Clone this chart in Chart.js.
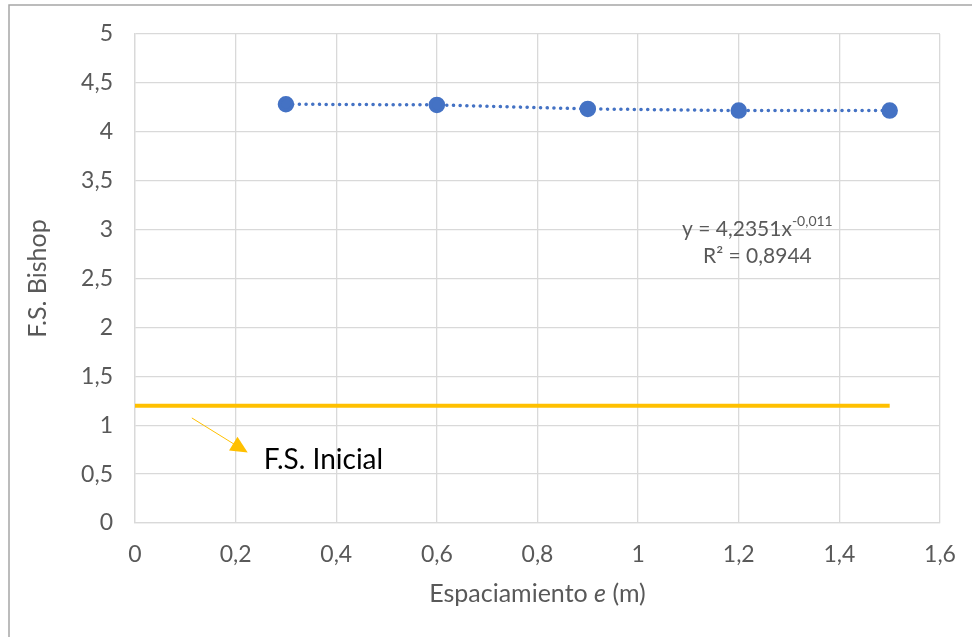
<!DOCTYPE html>
<html>
<head>
<meta charset="utf-8">
<script src="https://cdn.jsdelivr.net/npm/chart.js@4/dist/chart.umd.min.js"></script>
<style>
  html, body { margin: 0; padding: 0; background: #fff; }
  #wrap { width: 972px; height: 637px; position: relative; }
</style>
</head>
<body>
<div id="wrap"><canvas id="c" width="972" height="637"></canvas></div>
<script>
// espaciamiento e (m) vs F.S. Bishop
const espaciamiento = [0.3, 0.6, 0.9, 1.2, 1.5];
const fsBishop = [4.282, 4.275, 4.234, 4.217, 4.217];
// factor de seguridad inicial
const fsInicialX = [0, 1.5];
const fsInicialY = [1.2, 1.2];
const ecuacion = ['y = 4,2351x', '-0,011'];
const r2Texto = 'R² = 0,8944';
const etiquetaInicial = 'F.S. Inicial';

const gris = '#595959';
const fuente = 'Lato, "Open Sans", sans-serif';

function coma(v) {
    return (Math.round(v * 10) / 10).toString().replace('.', ',');
}

// draws the frame, axis titles, trend equation and the arrow label
const extras = {
    id: 'extras',
    afterDraw: function(chart) {
        const ctx = chart.ctx;
        const xs = chart.scales.x, ys = chart.scales.y;
        ctx.save();
        // outer frame
        ctx.strokeStyle = '#a6a6a6';
        ctx.lineWidth = 1.5;
        ctx.beginPath();
        ctx.moveTo(9, 640);
        ctx.lineTo(9, 5);
        ctx.lineTo(975, 5);
        ctx.stroke();

        // y title
        ctx.fillStyle = gris;
        ctx.font = '25px ' + fuente;
        ctx.textAlign = 'center';
        ctx.textBaseline = 'middle';
        ctx.translate(38, (chart.chartArea.top + chart.chartArea.bottom) / 2);
        ctx.rotate(-Math.PI / 2);
        ctx.fillText('F.S. Bishop', 0, 0);
        ctx.setTransform(1, 0, 0, 1, 0, 0);

        // x title with italic e
        const partes = [['Espaciamiento ', '25px '], ['e', 'italic 25px '], [' (m)', '25px ']];
        let total = 0;
        partes.forEach(function(p) { ctx.font = p[1] + fuente; total += ctx.measureText(p[0]).width; });
        let px = (chart.chartArea.left + chart.chartArea.right) / 2 - total / 2;
        ctx.textAlign = 'left';
        partes.forEach(function(p) {
            ctx.font = p[1] + fuente;
            ctx.fillText(p[0], px, 594);
            px += ctx.measureText(p[0]).width;
        });

        // trend equation
        ctx.font = '21px ' + fuente;
        const w1 = ctx.measureText(ecuacion[0]).width;
        ctx.font = '14px ' + fuente;
        const w2 = ctx.measureText(ecuacion[1]).width;
        const cx = xs.getPixelForValue(1.237);
        let ex = cx - (w1 + w2) / 2;
        const ey = ys.getPixelForValue(3.0);
        ctx.font = '21px ' + fuente;
        ctx.fillText(ecuacion[0], ex, ey);
        ctx.font = '14px ' + fuente;
        ctx.fillText(ecuacion[1], ex + w1, ey - 8);
        ctx.font = '21px ' + fuente;
        ctx.textAlign = 'center';
        ctx.fillText(r2Texto, cx, ys.getPixelForValue(2.73));

        // arrow to label
        const ax0 = xs.getPixelForValue(0.113), ay0 = ys.getPixelForValue(1.074);
        const ax1 = xs.getPixelForValue(0.224), ay1 = ys.getPixelForValue(0.72);
        const ang = Math.atan2(ay1 - ay0, ax1 - ax0);
        ctx.strokeStyle = '#FFC000';
        ctx.fillStyle = '#FFC000';
        ctx.lineWidth = 1;
        ctx.beginPath();
        ctx.moveTo(ax0, ay0);
        ctx.lineTo(ax1 - 10 * Math.cos(ang), ay1 - 10 * Math.sin(ang));
        ctx.stroke();
        ctx.beginPath();
        ctx.moveTo(ax1, ay1);
        ctx.lineTo(ax1 - 17 * Math.cos(ang) + 8 * Math.sin(ang), ay1 - 17 * Math.sin(ang) - 8 * Math.cos(ang));
        ctx.lineTo(ax1 - 17 * Math.cos(ang) - 8 * Math.sin(ang), ay1 - 17 * Math.sin(ang) + 8 * Math.cos(ang));
        ctx.closePath();
        ctx.fill();

        ctx.fillStyle = '#000';
        ctx.font = '28px ' + fuente;
        ctx.textAlign = 'left';
        ctx.fillText(etiquetaInicial, xs.getPixelForValue(0.256), ys.getPixelForValue(0.64));
        ctx.restore();
    }
};

new Chart(document.getElementById('c'), {
    type: 'scatter',
    data: {
        datasets: [
            {
                label: 'F.S. Inicial',
                data: fsInicialX.map(function(x, i) { return { x: x, y: fsInicialY[i] }; }),
                showLine: true,
                borderColor: '#FFC000',
                borderWidth: 4,
                pointRadius: 0,
                order: 2
            },
            {
                label: 'F.S. Bishop',
                data: espaciamiento.map(function(x, i) { return { x: x, y: fsBishop[i] }; }),
                showLine: true,
                borderColor: '#4472C4',
                borderWidth: 3.5,
                borderDash: [0.1, 6.6],
                borderCapStyle: 'round',
                backgroundColor: '#4472C4',
                pointBackgroundColor: '#4472C4',
                pointBorderColor: '#4472C4',
                pointRadius: 6.5,
                order: 1
            }
        ]
    },
    options: {
        responsive: false,
        animation: false,
        events: [],
        layout: { padding: { left: 0, top: 34, right: 32, bottom: 0 } },
        plugins: { legend: { display: false }, tooltip: { enabled: false } },
        scales: {
            x: {
                type: 'linear',
                min: 0, max: 1.6,
                // fixed axis size, no extra edge padding from tick labels
                afterFit: function(s) { s.height = 114; s.paddingLeft = 0; s.paddingRight = 0; },
                grid: { color: '#d9d9d9', lineWidth: 1.3, drawTicks: false },
                border: { color: '#d9d9d9', width: 1.3 },
                ticks: {
                    stepSize: 0.2, padding: 18,
                    color: gris, font: { family: fuente, size: 23 },
                    callback: function(v) { return coma(v); }
                }
            },
            y: {
                min: 0, max: 5,
                afterFit: function(s) { s.width = 135; s.paddingTop = 0; s.paddingBottom = 0; },
                grid: { color: '#d9d9d9', lineWidth: 1.3, drawTicks: false },
                border: { color: '#d9d9d9', width: 1.3 },
                ticks: {
                    stepSize: 0.5, padding: 22,
                    color: gris, font: { family: fuente, size: 23 },
                    callback: function(v) { return coma(v); }
                }
            }
        }
    },
    plugins: [extras]
});
</script>
</body>
</html>
